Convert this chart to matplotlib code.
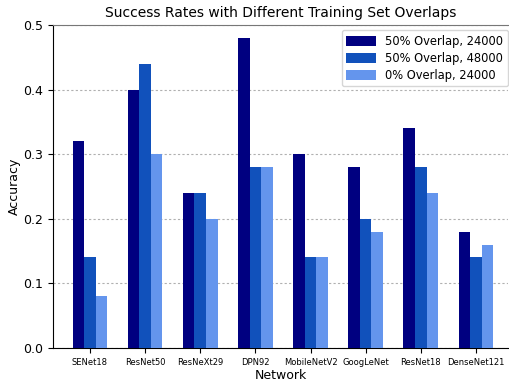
import matplotlib
matplotlib.use("Agg")
import matplotlib.pyplot as plt
import numpy as np

networks = ["SENet18", "ResNet50", "ResNeXt29", "DPN92",
            "MobileNetV2", "GoogLeNet", "ResNet18", "DenseNet121"]
overlap50_24k = [0.32, 0.40, 0.24, 0.48, 0.30, 0.28, 0.34, 0.18]
overlap50_48k = [0.14, 0.44, 0.24, 0.28, 0.14, 0.20, 0.28, 0.14]
overlap0_24k = [0.08, 0.30, 0.20, 0.28, 0.14, 0.18, 0.24, 0.16]

series = [
    ("50% Overlap, 24000", overlap50_24k, "#000080"),
    ("50% Overlap, 48000", overlap50_48k, "#1151bb"),
    ("0% Overlap, 24000", overlap0_24k, "#6495ed"),
]

fig = plt.figure(figsize=(5.09, 3.81), dpi=100)
ax = fig.add_axes([0.104, 0.087, 0.894, 0.847])

x = np.arange(len(networks))
width = 0.21
for i, (label, vals, color) in enumerate(series):
    ax.bar(x + (i - 1) * width, vals, width, color=color, label=label, zorder=3)

ax.set_xlim(-0.67, 7.58)
ax.set_ylim(0, 0.5)
ax.set_yticks([0.0, 0.1, 0.2, 0.3, 0.4, 0.5])
ax.set_xticks(x)
ax.set_xticklabels(networks, fontsize=6)
ax.tick_params(axis="y", labelsize=9)
ax.yaxis.grid(True, linestyle=(0, (2, 2)), color="#b0b0b0", linewidth=0.8, zorder=0)
ax.spines["right"].set_visible(False)
ax.spines["top"].set_color("#777777")
ax.spines["top"].set_linestyle((0, (2, 1)))

ax.set_title("Success Rates with Different Training Set Overlaps", fontsize=10)
ax.set_xlabel("Network", fontsize=9, labelpad=2)
ax.set_ylabel("Accuracy", fontsize=9, labelpad=2)
ax.legend(loc="upper right", bbox_to_anchor=(1.0, 0.985), fontsize=8.3,
          borderaxespad=0, handlelength=2.6, handleheight=0.95,
          labelspacing=0.35)

fig.savefig("out.png", dpi=100)
